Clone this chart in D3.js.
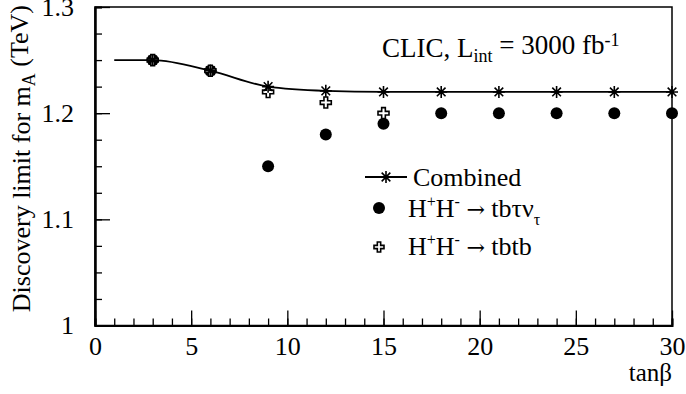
<!DOCTYPE html>
<html><head><meta charset="utf-8">
<script src="https://cdn.jsdelivr.net/npm/d3@7"></script>
<style>
html,body{margin:0;padding:0;background:#fff;}
svg text{font-family:"Liberation Serif","Times New Roman",serif;fill:#000;}
</style></head>
<body><svg id="c" width="686" height="394"></svg>
<script>
const tanb = [3, 6, 9, 12, 15, 18, 21, 24, 27, 30];
const combined = [1.25, 1.24, 1.225, 1.221, 1.22, 1.22, 1.22, 1.22, 1.22, 1.22];
const lineStart = {x: 1, y: 1.25};
const tbtaunu = [1.25, 1.24, 1.15, 1.18, 1.19, 1.2, 1.2, 1.2, 1.2, 1.2];
const tbtb = [1.25, 1.24, 1.22, 1.21, 1.2, null, null, null, null, null];
const xMajor = [0, 5, 10, 15, 20, 25, 30];
const yMajor = [1, 1.1, 1.2, 1.3];

const W = 686, H = 394;
const m = {l: 95, r: 14, t: 7, b: 68.5};
const svg = d3.select("#c");
const x = d3.scaleLinear().domain([0, 30]).range([m.l, W - m.r]);
const y = d3.scaleLinear().domain([1, 1.3]).range([H - m.b, m.t]);
const SERIF = '"Liberation Serif", "Times New Roman", serif';

svg.append("rect").attr("x", m.l).attr("y", m.t).attr("width", W - m.l - m.r).attr("height", H - m.t - m.b)
  .attr("fill", "none").attr("stroke", "#000").attr("stroke-width", 1.5);

const xMinor = d3.range(0, 31, 1);
const yMinor = d3.range(1, 1.3001, 0.025);
svg.append("g").attr("transform", `translate(0,${H - m.b})`)
  .call(d3.axisBottom(x).tickValues(xMinor).tickSize(-7).tickFormat(""));
svg.append("g").attr("transform", `translate(0,${H - m.b})`)
  .call(d3.axisBottom(x).tickValues(xMajor).tickSizeInner(-15).tickSizeOuter(0).tickPadding(11).tickFormat(d3.format("d")));
svg.append("g").attr("transform", `translate(${m.l},0)`)
  .call(d3.axisLeft(y).tickValues(yMinor).tickSize(-7).tickFormat(""));
svg.append("g").attr("transform", `translate(${m.l},0)`)
  .call(d3.axisLeft(y).tickValues(yMajor).tickSizeInner(-15).tickSizeOuter(0).tickPadding(21)
  .tickFormat(d => d === 1 ? "1" : d.toFixed(1)));
svg.selectAll("g").attr("font-family", SERIF);
svg.selectAll(".domain").attr("stroke", "#000").attr("stroke-width", 2);
svg.selectAll(".tick line").attr("stroke", "#000").attr("stroke-width", 1.3);
svg.selectAll(".tick text").attr("font-family", SERIF).attr("font-size", 26).attr("fill", "#000");

svg.append("text").attr("x", W - m.r).attr("y", 381).attr("text-anchor", "end").attr("font-size", 25).text("tanβ");
const yt = svg.append("text").attr("transform", `translate(30,${m.t - 2}) rotate(-90)`).attr("text-anchor", "end").attr("font-size", 26);
yt.append("tspan").text("Discovery limit for m");
yt.append("tspan").attr("dy", "0.3em").attr("font-size", 18).text("A");
yt.append("tspan").attr("dy", "-0.3em").text(" (TeV)");

const circles = tanb.map((t, i) => ({x: t, y: tbtaunu[i]}));
svg.append("g").selectAll("circle").data(circles).join("circle")
  .attr("cx", d => x(d.x)).attr("cy", d => y(d.y)).attr("r", 6).attr("fill", "#000");

function crossPath(s) {
  const a = s, b = s / 3;
  return `M${-b},${-a}H${b}V${-b}H${a}V${b}H${b}V${a}H${-b}V${b}H${-a}V${-b}H${-b}Z`;
}
const crosses = tanb.map((t, i) => ({x: t, y: tbtb[i]})).filter(d => d.y != null);
svg.append("g").selectAll("path").data(crosses).join("path")
  .attr("transform", d => `translate(${x(d.x)},${y(d.y)})`)
  .attr("d", crossPath(5.5)).attr("fill", "#fff").attr("stroke", "#000").attr("stroke-width", 1.6);

const linePts = [lineStart].concat(tanb.map((t, i) => ({x: t, y: combined[i]})));
svg.append("path").datum(linePts)
  .attr("d", d3.line().x(d => x(d.x)).y(d => y(d.y)).curve(d3.curveMonotoneX))
  .attr("fill", "none").attr("stroke", "#000").attr("stroke-width", 1.8);

function starPath(s) {
  const d = s * 0.72;
  return `M${-s},0H${s}M0,${-s}V${s}M${-d},${-d}L${d},${d}M${-d},${d}L${d},${-d}`;
}
const stars = tanb.map((t, i) => ({x: t, y: combined[i]}));
svg.append("g").selectAll("path").data(stars).join("path")
  .attr("transform", d => `translate(${x(d.x)},${y(d.y)})`)
  .attr("d", starPath(6)).attr("fill", "none").attr("stroke", "#000").attr("stroke-width", 1.6);

const cl = svg.append("text").attr("x", 382).attr("y", 57).attr("font-size", 27);
cl.append("tspan").text("CLIC, L");
cl.append("tspan").attr("dy", "0.3em").attr("font-size", 18).text("int");
cl.append("tspan").attr("dy", "-0.3em").text(" = 3000 fb");
cl.append("tspan").attr("dy", "-0.45em").attr("font-size", 18).text("-1");

const lg = svg.append("g");
lg.append("line").attr("x1", 365).attr("x2", 407).attr("y1", 177).attr("y2", 177).attr("stroke", "#000").attr("stroke-width", 1.8);
lg.append("path").attr("transform", "translate(386,177)").attr("d", starPath(6)).attr("fill", "none").attr("stroke", "#000").attr("stroke-width", 1.6);
lg.append("text").attr("x", 413).attr("y", 186).attr("font-size", 26).text("Combined");
lg.append("circle").attr("cx", 379).attr("cy", 208).attr("r", 6).attr("fill", "#000");
function decay(yPos, tail, sub) {
  const t = lg.append("text").attr("x", 408).attr("y", yPos).attr("font-size", 26);
  t.append("tspan").text("H");
  t.append("tspan").attr("dy", -10).attr("font-size", 16).text("+");
  t.append("tspan").attr("dy", 10).text("H");
  t.append("tspan").attr("dy", -10).attr("font-size", 16).text("-");
  t.append("tspan").attr("dy", 10).text(" ");
  t.append("tspan").attr("font-family", '"DejaVu Serif", serif').attr("font-size", 22).text("→");
  t.append("tspan").text(" " + tail);
  if (sub) t.append("tspan").attr("dy", 8).attr("font-size", 16).text(sub);
}
decay(217, "tbτν", "τ");
lg.append("path").attr("transform", "translate(379,247)").attr("d", crossPath(5)).attr("fill", "#fff").attr("stroke", "#000").attr("stroke-width", 1.6);
decay(255, "tbtb", null);
</script></body></html>
